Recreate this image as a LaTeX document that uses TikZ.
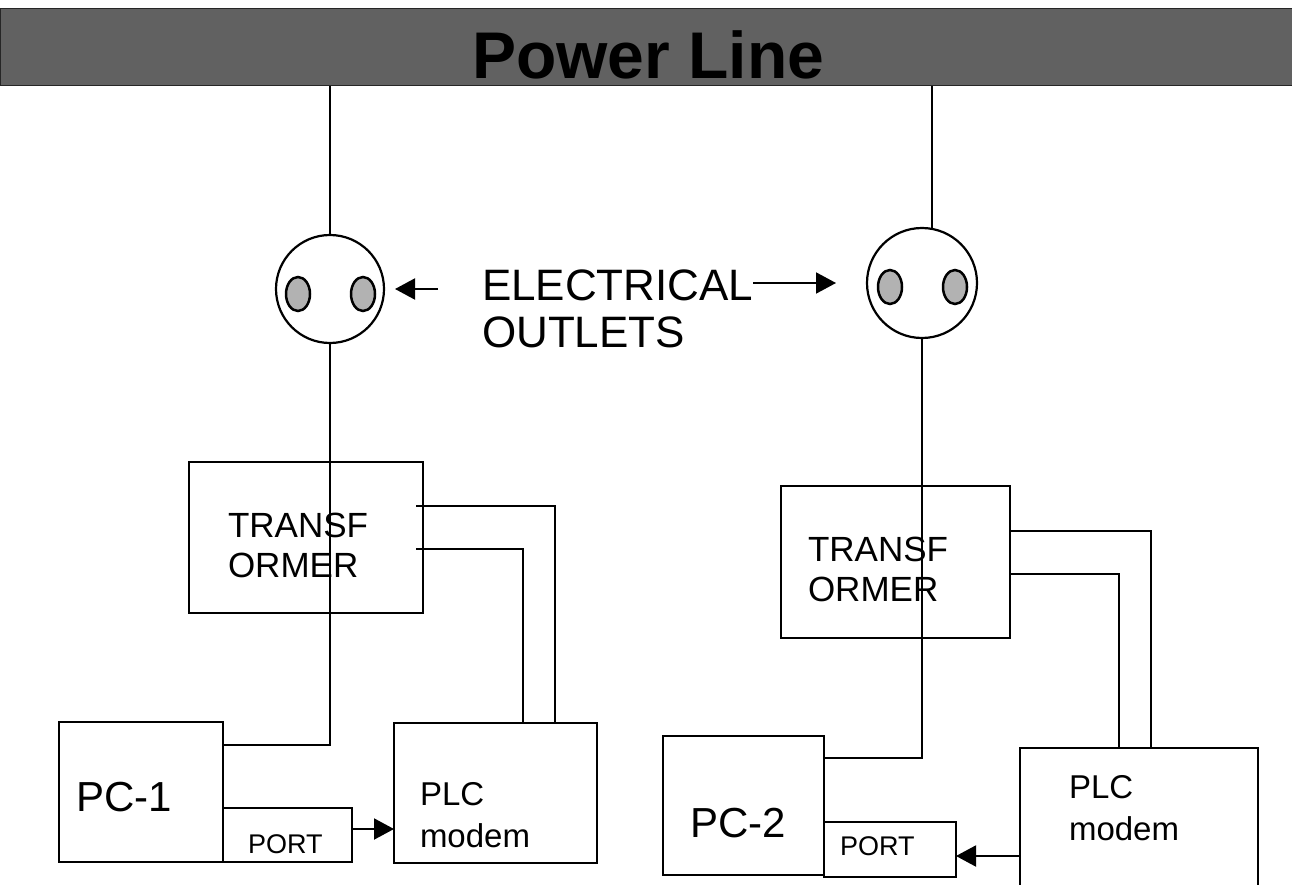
\documentclass[tikz,border=0pt]{standalone}
\usepackage{fontspec}
\setmainfont{Liberation Sans}
\usetikzlibrary{arrows.meta}
\begin{document}
\begin{tikzpicture}[x=1pt,y=-1pt,line width=2pt,
	boite/.style={draw,rectangle,anchor=north west,inner sep=0pt,outer sep=0pt,line width=2.2pt},
	prise/.style={draw,circle,inner sep=0pt,outer sep=0pt,line width=2.2pt},
	txt/.style={anchor=base west,inner sep=0pt,outer sep=0pt},
	fl/.style={-{Triangle[length=20pt,width=21pt]}}]
	% Dimensions de l'image
	\def\larg{1292} \def\haut{885}
	\useasboundingbox (0,0) rectangle (\larg,\haut);
	\clip (0,0) rectangle (\larg,\haut);
	%
	% Ligne electrique
	\node[draw=black!85,line width=1pt,fill=black!62,minimum width=\larg,minimum height=77,anchor=north west,inner sep=0pt] (ligne) at (0,8) {};
	\node[txt,font=\bfseries\fontsize{66}{66}\selectfont] (titre) at (472,79) {Power Line};
	%
	% Prises electriques
	\node[prise,minimum size=108] (priseG) at (330,289) {};
	\node[prise,minimum size=110] (priseD) at (922,283) {};
	\foreach \cx/\cy in {298/294,363/294,890/287,955/287}{
		\draw[line width=2.5pt,fill=black!30] (\cx,\cy) ellipse [x radius=12,y radius=17];
	};
	\draw (ligne.south -| priseG.north) -- (priseG.north);
	\draw (ligne.south -| priseD.80) -- (priseD.80);
	%
	% Legende des prises
	\node[txt,font=\fontsize{44}{44}\selectfont] (elec) at (482,300) {ELECTRICAL};
	\node[txt,font=\fontsize{44}{44}\selectfont] (outl) at (482,347) {OUTLETS};
	\coordinate (depG) at (438,289);
	\draw[fl,shorten >=11pt] (depG) -- (priseG);
	\draw[fl,shorten >=31pt] (elec.east |- priseD) -- (priseD);
	%
	% Cote gauche : PC-1
	\node[boite,minimum width=234,minimum height=151] (transG) at (189,462) {};
	\node[boite,minimum width=164,minimum height=140] (pcG) at (59,722) {};
	\node[boite,minimum width=129,minimum height=54] (portG) at (223,808) {};
	\node[boite,minimum width=203,minimum height=140] (plcG) at (394,723) {};
	\node[txt,font=\fontsize{35}{35}\selectfont] (trG1) at (228,537) {TRANSF};
	\node[txt,font=\fontsize{35}{35}\selectfont] (trG2) at (228,577) {ORMER};
	\node[txt,font=\fontsize{42}{42}\selectfont] (pcG1) at (76,811) {PC-1};
	\node[txt,font=\fontsize{27}{27}\selectfont] (portG1) at (248,853) {PORT};
	\node[txt,font=\fontsize{33}{33}\selectfont] (plcG1) at (420,805) {PLC};
	\node[txt,font=\fontsize{33}{33}\selectfont] (plcG2) at (420,847) {modem};
	\draw (priseG.south) |- ([yshift=-23pt]pcG.north east);
	\draw ([xshift=-7pt,yshift=-44pt]transG.north east) -| ([xshift=161pt]plcG.north west);
	\draw ([xshift=-7pt,yshift=-87pt]transG.north east) -| ([xshift=129pt]plcG.north west);
	\coordinate (flG) at ([yshift=6pt]portG.east);
	\draw[fl] (flG) -- (flG -| plcG.west);
	%
	% Cote droit : PC-2
	\node[boite,minimum width=229,minimum height=152] (transD) at (781,486) {};
	\node[boite,minimum width=161,minimum height=139] (pcD) at (663,736) {};
	\node[boite,minimum width=132,minimum height=55] (portD) at (824,822) {};
	\node[boite,minimum width=238,minimum height=200] (plcD) at (1020,748) {};
	\node[txt,font=\fontsize{35}{35}\selectfont] (trD1) at (808,561) {TRANSF};
	\node[txt,font=\fontsize{35}{35}\selectfont] (trD2) at (808,601) {ORMER};
	\node[txt,font=\fontsize{42}{42}\selectfont] (pcD1) at (690,837) {PC-2};
	\node[txt,font=\fontsize{27}{27}\selectfont] (portD1) at (840,855) {PORT};
	\node[txt,font=\fontsize{33}{33}\selectfont] (plcD1) at (1069,798) {PLC};
	\node[txt,font=\fontsize{33}{33}\selectfont] (plcD2) at (1069,840) {modem};
	\draw (priseD.south) |- ([yshift=-22pt]pcD.north east);
	\draw ([yshift=-45pt]transD.north east) -| ([xshift=131pt]plcD.north west);
	\draw ([yshift=-88pt]transD.north east) -| ([xshift=99pt]plcD.north west);
	\coordinate (flD) at ([yshift=-6.5pt]portD.east);
	\draw[fl] (flD -| plcD.west) -- (flD);
\end{tikzpicture}
\end{document}
